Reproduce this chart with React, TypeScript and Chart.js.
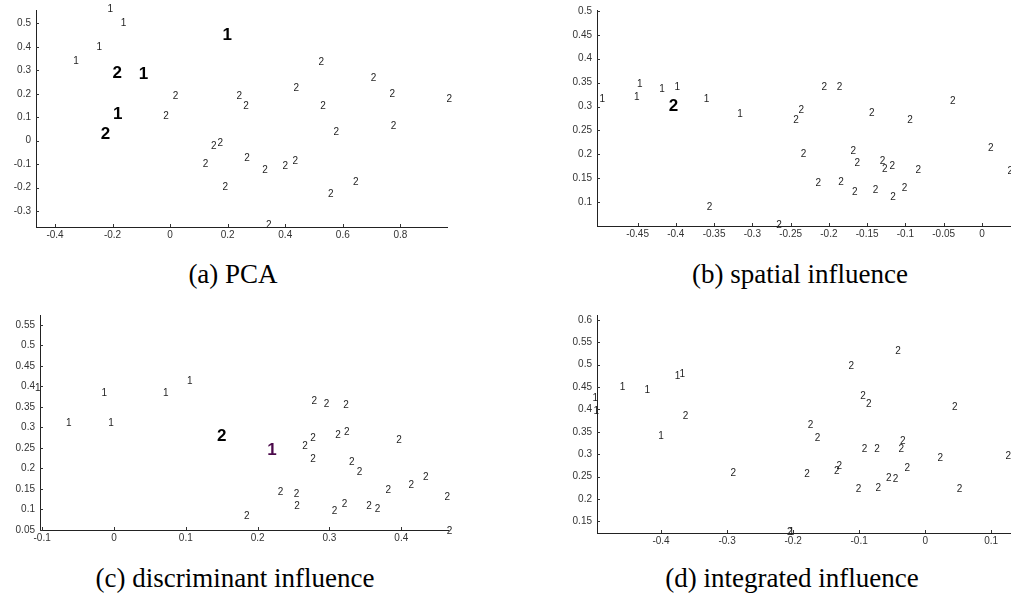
import React, { useEffect, useRef } from "react";
import { Chart, registerables } from "chart.js";

Chart.register(...registerables);

type P = [number, number];

// ---------- (a) PCA ----------
const pcaSmallOnes: P[] = [[-0.2075, 0.561], [-0.162, 0.501], [-0.246, 0.399], [-0.327, 0.337]];
const pcaBigOnes: P[] = [[0.198, 0.447], [-0.093, 0.281], [-0.182, 0.111]];
const pcaBigTwos: P[] = [[-0.184, 0.286], [-0.225, 0.027]];
const pcaSmallTwos: P[] = [
  [0.525, 0.334], [0.707, 0.266], [0.438, 0.223], [0.772, 0.196], [0.97, 0.178],
  [0.0186, 0.189], [0.24, 0.189], [0.264, 0.146], [0.531, 0.146], [-0.014, 0.104],
  [0.776, 0.061], [0.577, 0.037], [0.174, -0.013], [0.152, -0.024], [0.123, -0.102],
  [0.267, -0.075], [0.33, -0.126], [0.4, -0.109], [0.435, -0.089], [0.192, -0.199],
  [0.645, -0.178], [0.558, -0.23], [0.343, -0.359],
];

// ---------- (b) spatial influence ----------
const spaSmallOnes: P[] = [
  [-0.447, 0.347], [-0.418, 0.336], [-0.398, 0.34], [-0.451, 0.319],
  [-0.496, 0.315], [-0.36, 0.315], [-0.316, 0.283],
];
const spaBigTwos: P[] = [[-0.403, 0.301]];
const spaSmallTwos: P[] = [
  [-0.206, 0.34], [-0.186, 0.34], [-0.038, 0.312], [-0.236, 0.292], [-0.243, 0.272],
  [-0.144, 0.286], [-0.094, 0.272], [0.0116, 0.212], [0.037, 0.165], [-0.233, 0.2],
  [-0.168, 0.206], [-0.163, 0.181], [-0.13, 0.185], [-0.127, 0.169], [-0.117, 0.174],
  [-0.083, 0.167], [-0.214, 0.139], [-0.184, 0.142], [-0.166, 0.12], [-0.139, 0.125],
  [-0.116, 0.11], [-0.101, 0.13], [-0.356, 0.09], [-0.265, 0.052],
];

// ---------- (c) discriminant influence ----------
const disSmallOnes: P[] = [
  [-0.106, 0.395], [-0.0135, 0.383], [0.072, 0.384], [0.1056, 0.413], [-0.063, 0.311], [-0.004, 0.311],
];
const disBigTwos: P[] = [[0.15, 0.279]];
const disPurpleOnes: P[] = [[0.22, 0.243]];
const disSmallTwos: P[] = [
  [0.279, 0.365], [0.296, 0.357], [0.323, 0.355], [0.277, 0.273], [0.266, 0.254],
  [0.312, 0.281], [0.324, 0.289], [0.397, 0.269], [0.277, 0.223], [0.331, 0.215],
  [0.342, 0.19], [0.232, 0.141], [0.254, 0.138], [0.255, 0.109], [0.382, 0.146],
  [0.414, 0.158], [0.434, 0.178], [0.464, 0.13], [0.307, 0.095], [0.321, 0.113],
  [0.355, 0.108], [0.367, 0.101], [0.185, 0.084], [0.467, 0.048],
];

// ---------- (d) integrated influence ----------
const intSmallOnes: P[] = [
  [-0.4997, 0.425], [-0.498, 0.396], [-0.4585, 0.45], [-0.421, 0.443],
  [-0.375, 0.475], [-0.368, 0.479], [-0.4, 0.34], [-0.2025, 0.126],
];
const intSmallTwos: P[] = [
  [-0.041, 0.531], [-0.112, 0.496], [-0.094, 0.43], [-0.0855, 0.412], [0.045, 0.404],
  [-0.363, 0.384], [-0.1735, 0.364], [-0.163, 0.335], [-0.034, 0.328], [-0.036, 0.31],
  [-0.092, 0.311], [-0.073, 0.311], [0.023, 0.292], [0.126, 0.296], [-0.2906, 0.257],
  [-0.179, 0.255], [-0.134, 0.261], [-0.13, 0.272], [-0.027, 0.269], [-0.055, 0.246],
  [-0.045, 0.243], [-0.101, 0.221], [-0.071, 0.224], [0.052, 0.221], [-0.205, 0.126],
];

// ---------- captions ----------
const captions = ["(a) PCA", "(b) spatial influence", "(c) discriminant influence", "(d) integrated influence"];

const SANS = '"Liberation Sans", Arial, Helvetica, sans-serif';
const SMALL_FONT = `10px ${SANS}`;
const BIG_FONT = `bold 17px ${SANS}`;

type Series = { pts: P[]; text: string; font: string; color: string };

type PanelCfg = {
  left: number; top: number; width: number; height: number;
  yAxisW: number; xAxisH: number; padTop: number; padRight: number;
  xMin: number; xMax: number; xStep: number; xFirstTick: number;
  yMin: number; yMax: number; yStep: number; yFirstTick: number;
  series: Series[];
};

const small = (pts: P[], text: string): Series => ({ pts, text, font: SMALL_FONT, color: "#1e1e1e" });
const big = (pts: P[], text: string, color = "#000"): Series => ({ pts, text, font: BIG_FONT, color });

const panels: PanelCfg[] = [
  {
    left: 0, top: 0, width: 500, height: 245, yAxisW: 36, xAxisH: 18, padTop: 10, padRight: 53,
    xMin: -0.466, xMax: 0.962, xStep: 0.2, xFirstTick: -0.4,
    yMin: -0.368, yMax: 0.557, yStep: 0.1, yFirstTick: -0.3,
    series: [small(pcaSmallOnes, "1"), small(pcaSmallTwos, "2"), big(pcaBigOnes, "1"), big(pcaBigTwos, "2")],
  },
  {
    left: 500, top: 0, width: 520, height: 245, yAxisW: 97, xAxisH: 19, padTop: 10, padRight: 9,
    xMin: -0.503, xMax: 0.038, xStep: 0.05, xFirstTick: -0.45,
    yMin: 0.05, yMax: 0.502, yStep: 0.05, yFirstTick: 0.1,
    series: [small(spaSmallOnes, "1"), small(spaSmallTwos, "2"), big(spaBigTwos, "2")],
  },
  {
    left: 0, top: 305, width: 500, height: 245, yAxisW: 40, xAxisH: 20, padTop: 10, padRight: 52,
    xMin: -0.103, xMax: 0.465, xStep: 0.1, xFirstTick: -0.1,
    yMin: 0.05, yMax: 0.574, yStep: 0.05, yFirstTick: 0.05,
    series: [small(disSmallOnes, "1"), small(disSmallTwos, "2"), big(disBigTwos, "2"), big(disPurpleOnes, "1", "#4b0a4b")],
  },
  {
    left: 500, top: 305, width: 520, height: 245, yAxisW: 97, xAxisH: 17, padTop: 10, padRight: 9,
    xMin: -0.497, xMax: 0.13, xStep: 0.1, xFirstTick: -0.4,
    yMin: 0.124, yMax: 0.611, yStep: 0.05, yFirstTick: 0.15,
    series: [small(intSmallOnes, "1"), small(intSmallTwos, "2")],
  },
];

const captionPos = [
  { cx: 233, cy: 276 },
  { cx: 800, cy: 276 },
  { cx: 235, cy: 580 },
  { cx: 792, cy: 580 },
];

const textPointPlugin = {
  id: "textPoints",
  afterDatasetsDraw(chart: any) {
    const ctx = chart.ctx;
    chart.data.datasets.forEach((ds: any, i: number) => {
      const meta = chart.getDatasetMeta(i);
      ctx.save();
      ctx.font = ds.textFont;
      ctx.fillStyle = ds.textColor;
      ctx.textAlign = "center";
      ctx.textBaseline = "middle";
      meta.data.forEach((el: any) => ctx.fillText(ds.text, el.x, el.y));
      ctx.restore();
    });
  },
};

const inwardTicksPlugin = {
  id: "inwardTicks",
  afterDraw(chart: any) {
    const { ctx, chartArea } = chart;
    const xs = chart.scales.x;
    const ys = chart.scales.y;
    ctx.save();
    ctx.strokeStyle = "#333";
    ctx.lineWidth = 1;
    ctx.beginPath();
    xs.ticks.forEach((t: any) => {
      const px = Math.round(xs.getPixelForValue(t.value)) + 0.5;
      ctx.moveTo(px, chartArea.bottom);
      ctx.lineTo(px, chartArea.bottom - 3);
    });
    ys.ticks.forEach((t: any) => {
      const py = Math.round(ys.getPixelForValue(t.value)) + 0.5;
      ctx.moveTo(chartArea.left, py);
      ctx.lineTo(chartArea.left + 3, py);
    });
    ctx.stroke();
    ctx.restore();
  },
};

const fmt = (v: any) => String(Math.round(Number(v) * 1000) / 1000);

function Panel({ cfg }: { cfg: PanelCfg }) {
  const ref = useRef<HTMLCanvasElement | null>(null);
  useEffect(() => {
    if (!ref.current) return;
    const tickFont = { family: SANS, size: 10 };
    const chart = new Chart(ref.current, {
      type: "scatter",
      data: {
        datasets: cfg.series.map((s) => ({
          data: s.pts.map(([x, y]) => ({ x, y })),
          pointRadius: 0,
          pointHoverRadius: 0,
          showLine: false,
          text: s.text,
          textFont: s.font,
          textColor: s.color,
        })) as any,
      },
      options: {
        animation: false,
        responsive: false,
        maintainAspectRatio: false,
        events: [],
        layout: { padding: { left: 0, top: cfg.padTop, right: cfg.padRight, bottom: 0 } },
        plugins: { legend: { display: false }, tooltip: { enabled: false } },
        scales: {
          x: {
            type: "linear",
            min: cfg.xMin,
            max: cfg.xMax,
            afterBuildTicks: (s: any) => {
              s.ticks = s.ticks.filter((t: any) => t.value >= cfg.xFirstTick - 1e-9);
            },
            afterFit: (s: any) => {
              s.height = cfg.xAxisH;
              s.paddingLeft = 0;
              s.paddingRight = 0;
            },
            grid: { drawOnChartArea: false, drawTicks: false },
            border: { display: true, color: "#222", width: 1 },
            ticks: {
              stepSize: cfg.xStep,
              includeBounds: false,
              padding: 2,
              autoSkip: false,
              maxRotation: 0,
              font: tickFont,
              color: "#333",
              callback: fmt,
            },
          },
          y: {
            type: "linear",
            min: cfg.yMin,
            max: cfg.yMax,
            afterBuildTicks: (s: any) => {
              s.ticks = s.ticks.filter((t: any) => t.value >= cfg.yFirstTick - 1e-9);
            },
            afterFit: (s: any) => {
              s.width = cfg.yAxisW;
              s.paddingTop = 0;
              s.paddingBottom = 0;
            },
            grid: { drawOnChartArea: false, drawTicks: false },
            border: { display: true, color: "#222", width: 1 },
            ticks: {
              stepSize: cfg.yStep,
              includeBounds: false,
              padding: 5,
              autoSkip: false,
              font: tickFont,
              color: "#333",
              callback: fmt,
            },
          },
        },
      } as any,
      plugins: [textPointPlugin, inwardTicksPlugin],
    });
    return () => chart.destroy();
  }, [cfg]);
  return (
    <canvas
      ref={ref}
      width={cfg.width}
      height={cfg.height}
      style={{ position: "absolute", left: cfg.left, top: cfg.top, width: cfg.width, height: cfg.height }}
    />
  );
}

export default function App() {
  return (
    <div
      style={{
        position: "fixed",
        left: 0,
        top: 0,
        width: 1011,
        height: 600,
        overflow: "hidden",
        background: "#fff",
      }}
    >
      {panels.map((p, i) => (
        <Panel key={i} cfg={p} />
      ))}
      {captions.map((c, i) => (
        <div
          key={c}
          style={{
            position: "absolute",
            left: captionPos[i].cx - 200,
            top: captionPos[i].cy - 17,
            width: 400,
            textAlign: "center",
            fontFamily: '"Liberation Serif", "Times New Roman", serif',
            fontSize: 27,
            lineHeight: "30px",
            color: "#000",
            whiteSpace: "nowrap",
          }}
        >
          {c}
        </div>
      ))}
    </div>
  );
}
